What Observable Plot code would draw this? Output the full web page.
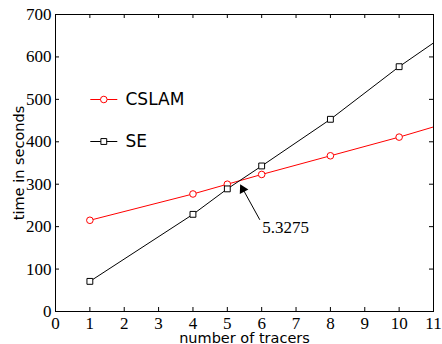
<!DOCTYPE html>
<html>
<head>
<meta charset="utf-8">
<script src="https://cdn.jsdelivr.net/npm/d3@7"></script>
<script src="https://cdn.jsdelivr.net/npm/@observablehq/plot@0.6"></script>
<style>
  html, body { margin: 0; padding: 0; background: #fff; }
</style>
</head>
<body>
<div id="chart"></div>
<script>
// ---- data ----
const tracers = [1, 4, 5, 6, 8, 10];
const cslam = [215, 277, 300, 323, 367, 411];
const se = [71, 229, 289, 343, 453, 577];
const lineEndX = 11;
const cslamEnd = 435;
const seEnd = 633;
const seriesNames = ["CSLAM", "SE"];
const seriesColors = ["#ff0000", "#000000"];
const seriesSymbols = ["circle", "square"];
const xTicks = [0, 1, 2, 3, 4, 5, 6, 7, 8, 9, 10, 11];
const yTicks = [0, 100, 200, 300, 400, 500, 600, 700];
const xLabel = "number of tracers";
const yLabel = "time in seconds";
const crossX = 5.3275;
const crossY = 307;
const annotTailX = 5.94;
const annotTailY = 217;
const annotTextX = 6.02;
const annotTextY = 199;
const annotText = "5.3275";

const seriesValues = [cslam, se];
const seriesEnds = [cslamEnd, seEnd];

const lineRows = [];
const dotRows = [];
seriesNames.forEach((name, s) => {
  tracers.forEach((x, i) => {
    lineRows.push({series: name, x, y: seriesValues[s][i]});
    dotRows.push({series: name, x, y: seriesValues[s][i]});
  });
  lineRows.push({series: name, x: lineEndX, y: seriesEnds[s]});
});

const W = 442, H = 344;
const mL = 55, mR = 9, mT = 14, mB = 33;
const frameW = W - mL - mR, frameH = H - mT - mB;
const tickLen = 4;
const serif = "Liberation Serif";
const sans = "DejaVu Sans";

const legendLine = {
  draw(context) {
    context.moveTo(-13.5, 0);
    context.lineTo(13.5, 0);
  }
};

const legendMarks = [];
seriesNames.forEach((name, s) => {
  const dy = 85 + s * 42;
  legendMarks.push(
    Plot.dot([name], {frameAnchor: "top-left", dx: 48.3, dy, symbol: legendLine, r: 1, stroke: seriesColors[s], strokeWidth: 1, fill: "none"}),
    Plot.dot([name], {frameAnchor: "top-left", dx: 48.3, dy, symbol: seriesSymbols[s], r: 3.3, stroke: seriesColors[s], strokeWidth: 1, fill: "white"}),
    Plot.text([name], {frameAnchor: "top-left", dx: 70, dy: dy + 0.5, text: d => d, textAnchor: "start", lineAnchor: "middle", fontSize: 17, fontFamily: sans, fill: "black"})
  );
});

const chart = Plot.plot({
  width: W,
  height: H,
  marginLeft: mL,
  marginRight: mR,
  marginTop: mT,
  marginBottom: mB,
  style: {background: "white", color: "black", overflow: "visible"},
  x: {domain: [0, 11], label: null},
  y: {domain: [0, 700], label: null},
  color: {domain: seriesNames, range: seriesColors},
  symbol: {domain: seriesNames, range: seriesSymbols},
  marks: [
    Plot.axisX({ticks: xTicks, tickSize: 0, tickPadding: 5, fontSize: 17, fontFamily: serif, label: null, tickFormat: d => String(d)}),
    Plot.axisY({ticks: yTicks, tickSize: 0, tickPadding: 4, fontSize: 17, fontFamily: serif, label: null, tickFormat: d => String(d)}),
    Plot.tickX(xTicks, {x: d => d, insetTop: frameH - tickLen, stroke: "black"}),
    Plot.tickX(xTicks, {x: d => d, insetBottom: frameH - tickLen, stroke: "black"}),
    Plot.tickY(yTicks, {y: d => d, insetRight: frameW - tickLen, stroke: "black"}),
    Plot.tickY(yTicks, {y: d => d, insetLeft: frameW - tickLen, stroke: "black"}),
    Plot.line(lineRows, {x: "x", y: "y", z: "series", stroke: "series", strokeWidth: 1}),
    Plot.dot(dotRows, {x: "x", y: "y", stroke: "series", symbol: "series", fill: "white", r: 3.3, strokeWidth: 1}),
    Plot.arrow([0], {x1: annotTailX, y1: annotTailY, x2: crossX, y2: crossY, insetEnd: 6, headLength: 0, stroke: "black", strokeWidth: 1}),
    Plot.dot([0], {x: crossX, y: crossY, dx: 4.2, dy: 8.0, symbol: "triangle", r: 3.6, rotate: -28, fill: "black", stroke: "none"}),
    Plot.text([annotText], {x: annotTextX, y: annotTextY, text: d => d, textAnchor: "start", lineAnchor: "middle", fontSize: 17, fontFamily: serif, fill: "black"}),
    ...legendMarks,
    Plot.text([xLabel], {frameAnchor: "bottom", dy: 26.5, text: d => d, textAnchor: "middle", lineAnchor: "middle", fontSize: 14.5, fontFamily: sans, fill: "black"}),
    Plot.text([yLabel], {frameAnchor: "left", dx: -36.6, rotate: -90, text: d => d, textAnchor: "middle", lineAnchor: "middle", fontSize: 14.5, fontFamily: sans, fill: "black"}),
    Plot.frame({stroke: "black", strokeWidth: 1})
  ]
});
document.getElementById("chart").appendChild(chart);
</script>
</body>
</html>
